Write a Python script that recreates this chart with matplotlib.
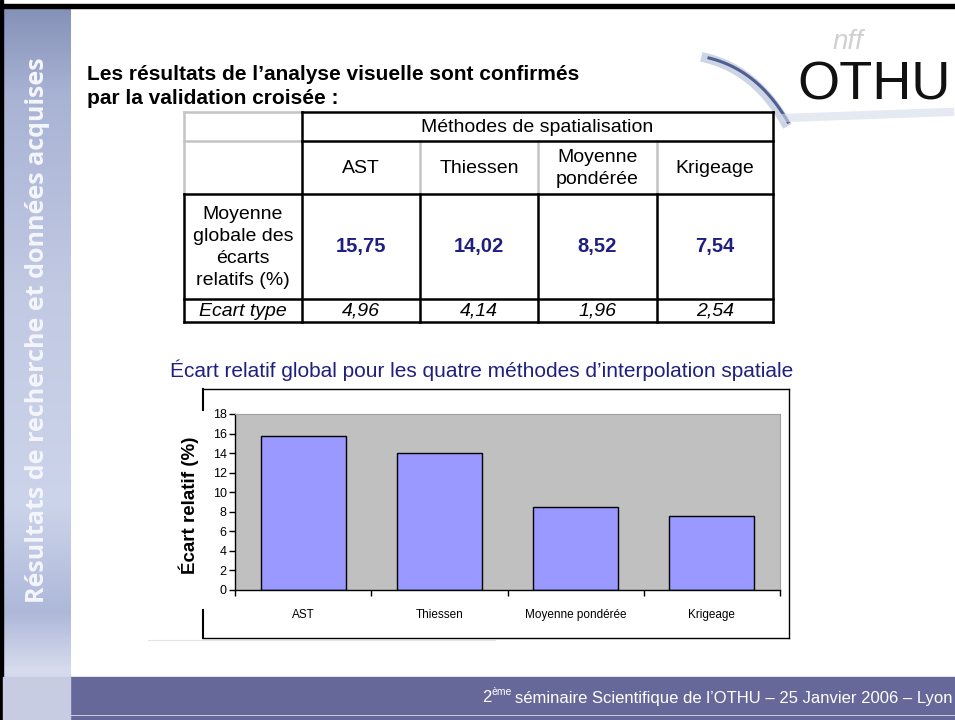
import numpy as np
import matplotlib
matplotlib.use('Agg')
import matplotlib.pyplot as plt
from matplotlib.patches import Rectangle

plt.rcParams['font.family'] = ['Liberation Sans', 'DejaVu Sans']

# données du tableau / graphique
methodes = ['AST', 'Thiessen', 'Moyenne pondérée', 'Krigeage']
entetes = ['AST', 'Thiessen', 'Moyenne\npondérée', 'Krigeage']
ecart_moyen = [15.75, 14.02, 8.52, 7.54]
ecart_type = [4.96, 4.14, 1.96, 2.54]
graduations = list(range(0, 19, 2))

W, H = 955, 720
BLEU = '#1f1f80'


def virgule(v):
    return f"{v:.2f}".replace('.', ',')


def ligne(ax, x0, x1, y0, y1, couleur='black', lw=1.8):
    ax.plot([x0, x1], [y0, y1], color=couleur, lw=lw, solid_capstyle='projecting', zorder=3)


def dessiner_fond(fond):
    # barre latérale texturée
    stops = [0, 0.12, 0.4, 0.7, 0.85, 0.93, 1.0]
    cols = np.array([[0.52, 0.57, 0.72], [0.66, 0.70, 0.83], [0.76, 0.79, 0.89],
                     [0.80, 0.83, 0.92], [0.68, 0.72, 0.85], [0.84, 0.86, 0.93],
                     [0.78, 0.80, 0.90]])
    yy = np.linspace(0, 1, 300)
    grad = np.stack([np.interp(yy, stops, cols[:, k]) for k in range(3)], axis=1)
    grad = np.repeat(grad[:, None, :], 10, axis=1)
    fond.imshow(grad, extent=(3, 70, 720, 8), aspect='auto', zorder=0, interpolation='bilinear')
    fond.add_patch(Rectangle((0, 0), 3, 720, color='black', zorder=1))
    fond.add_patch(Rectangle((0, 4), W, 4, color='black', zorder=1))
    fond.text(38, 330, "Résultats de recherche et données acquises", rotation=90,
              ha='center', va='center', color='#f4f6fb', fontsize=18, fontweight='bold',
              family=['Open Sans', 'DejaVu Sans'], zorder=2)

    # bandeau du bas
    fond.add_patch(Rectangle((70, 677), W - 70, 37, color='#67689a', zorder=1))
    fond.add_patch(Rectangle((70, 716), W - 70, 4, color='#67689a', zorder=1))
    fond.add_patch(Rectangle((3, 677), 67, 43, color='#c8cce2', zorder=1))
    ligne(fond, 148, 495, 640, 640, couleur='#e4e4e4', lw=0.8)

    r = fond.figure.canvas.get_renderer()
    t = fond.text(952, 698, "séminaire Scientifique de l’OTHU – 25 Janvier 2006 – Lyon",
                  ha='right', va='center', color='white', fontsize=12, zorder=4)
    x0 = t.get_window_extent(r).x0 - 3
    t2 = fond.text(x0, 692, "ème", ha='right', va='center', color='white', fontsize=7.5, zorder=4)
    x1 = t2.get_window_extent(r).x0
    fond.text(x1, 698, "2", ha='right', va='center', color='white', fontsize=12, zorder=4)

    # logo OTHU
    tt = np.linspace(0, 1, 60)
    p0, p1, p2 = np.array([706, 58]), np.array([755, 70]), np.array([785, 122])
    courbe = ((1 - tt)[:, None] ** 2) * p0 + 2 * ((1 - tt) * tt)[:, None] * p1 + (tt ** 2)[:, None] * p2
    fond.plot(courbe[:, 0], courbe[:, 1], color='#b8c2da', lw=7, alpha=0.7, zorder=1)
    fond.plot(courbe[:, 0] + 3, courbe[:, 1], color='#4f5f90', lw=2.2, zorder=1)
    fond.plot([785, 950], [118, 112], color='#d4dbea', lw=6, alpha=0.6, zorder=1)
    fond.text(848, 42, "nff", color='#d0d0d0', fontsize=20, style='italic', ha='center',
              va='center', zorder=1)
    fond.text(797, 99, "OTHU", fontsize=39, color='#111111', ha='left', va='baseline', zorder=2)

    # titre
    fond.text(87, 75, "Les résultats de l’analyse visuelle sont confirmés", fontsize=15,
              fontweight='bold', va='center', zorder=4)
    fond.text(87, 98, "par la validation croisée :", fontsize=15, fontweight='bold',
              va='center', zorder=4)


def dessiner_tableau(fond):
    xs = [184, 302, 420, 538, 657, 773]
    ys = [112, 141, 194, 299, 322]
    gris = '#c4c4c4'
    # cases grises en haut à gauche
    ligne(fond, xs[0], xs[1], ys[0], ys[0], gris)
    ligne(fond, xs[0], xs[1], ys[1], ys[1], gris)
    ligne(fond, xs[0], xs[0], ys[0], ys[2], gris)
    for x in xs[2:5]:
        ligne(fond, x, x, ys[1], ys[2], gris)
    # bordures noires
    ligne(fond, xs[1], xs[5], ys[0], ys[0])
    ligne(fond, xs[1], xs[5], ys[1], ys[1])
    for y in ys[2:]:
        ligne(fond, xs[0], xs[5], y, y)
    ligne(fond, xs[1], xs[1], ys[0], ys[4])
    ligne(fond, xs[5], xs[5], ys[0], ys[4])
    ligne(fond, xs[0], xs[0], ys[2], ys[4])
    for x in xs[2:5]:
        ligne(fond, x, x, ys[2], ys[4])

    fs = 14
    fond.text((xs[1] + xs[5]) / 2, (ys[0] + ys[1]) / 2 + 1, "Méthodes de spatialisation",
              ha='center', va='center', fontsize=fs, zorder=4)
    for i in range(4):
        cx = (xs[i + 1] + xs[i + 2]) / 2
        fond.text(cx, (ys[1] + ys[2]) / 2 + 1, entetes[i], ha='center', va='center',
                  fontsize=fs, linespacing=1.35, zorder=4)
        fond.text(cx, (ys[2] + ys[3]) / 2, virgule(ecart_moyen[i]), ha='center', va='center',
                  fontsize=14.5, fontweight='bold', color=BLEU, zorder=4)
        fond.text(cx, (ys[3] + ys[4]) / 2 + 1, virgule(ecart_type[i]), ha='center', va='center',
                  fontsize=fs, style='italic', zorder=4)
    fond.text((xs[0] + xs[1]) / 2, (ys[2] + ys[3]) / 2 + 1,
              "Moyenne\nglobale des\nécarts\nrelatifs (%)", ha='center', va='center',
              fontsize=fs, linespacing=1.38, zorder=4)
    fond.text((xs[0] + xs[1]) / 2, (ys[3] + ys[4]) / 2 + 1, "Ecart type", ha='center',
              va='center', fontsize=fs, style='italic', zorder=4)


def dessiner_graphique(fig, fond):
    fond.text(482, 370, "Écart relatif global pour les quatre méthodes d’interpolation spatiale",
              ha='center', va='center', fontsize=15, color=BLEU, zorder=4)
    # cadre du graphique
    ligne(fond, 203, 789, 389, 389, lw=1)
    ligne(fond, 203, 789, 638, 638, lw=1)
    ligne(fond, 789, 789, 389, 638, lw=1)
    ligne(fond, 203, 203, 389, 410, lw=1.5)
    ligne(fond, 203, 203, 610, 638, lw=1.5)
    fond.text(189, 505, "Écart relatif (%)", rotation=90, ha='center', va='center',
              fontsize=13.5, fontweight='bold', zorder=4)

    ax = fig.add_axes([235 / W, 1 - 590 / H, 545 / W, 176 / H], zorder=5)
    ax.set_facecolor('#c0c0c0')
    x = np.arange(len(methodes))
    ax.bar(x, ecart_moyen, width=0.625, color='#9999ff', edgecolor='black', linewidth=1)
    ax.set_xlim(-0.5, len(methodes) - 0.5)
    ax.set_ylim(0, 18)
    ax.set_yticks(graduations)
    ax.set_xticks(x)
    ax.set_xticklabels(methodes, fontsize=8.5)
    ax.set_xticks(np.arange(-0.5, len(methodes), 1), minor=True)
    ax.tick_params(axis='x', which='major', length=0, pad=14)
    ax.tick_params(axis='x', which='minor', length=4, direction='out', width=1)
    ax.tick_params(axis='y', length=4, direction='out', width=1, pad=2, labelsize=9)
    for cote in ['top', 'right']:
        ax.spines[cote].set_color('#a0a0a0')
        ax.spines[cote].set_linewidth(0.8)
    for cote in ['left', 'bottom']:
        ax.spines[cote].set_color('black')
        ax.spines[cote].set_linewidth(1)


def main():
    fig = plt.figure(figsize=(W / 100, H / 100), dpi=100)
    fond = fig.add_axes([0, 0, 1, 1], zorder=0)
    fond.set_xlim(0, W)
    fond.set_ylim(H, 0)
    fond.axis('off')
    dessiner_fond(fond)
    dessiner_tableau(fond)
    dessiner_graphique(fig, fond)
    fig.savefig('out.png', dpi=100)


if __name__ == "__main__":
    main()
